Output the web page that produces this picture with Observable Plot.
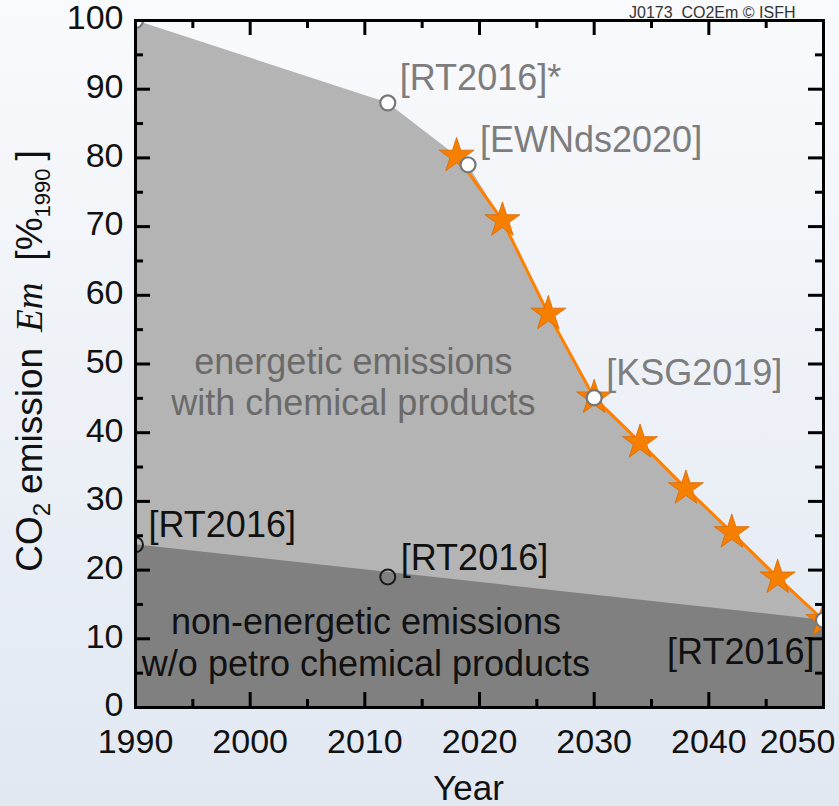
<!DOCTYPE html>
<html>
<head>
<meta charset="utf-8">
<script src="https://cdn.jsdelivr.net/npm/d3@7"></script>
<script src="https://cdn.jsdelivr.net/npm/@observablehq/plot@0.6"></script>
<style>
  html, body { margin: 0; padding: 0; }
  body { width: 839px; height: 806px; overflow: hidden;
         background: linear-gradient(#f9fafc, #e1e8f2); }
  #chart svg { display: block; }
</style>
</head>
<body>
<div id="chart"></div>
<script>
// ---- data ----
const energeticYears = [1990, 2012, 2019, 2022, 2026, 2030, 2034, 2038, 2042, 2046, 2050];
const energeticTop   = [100, 88, 79, 70.9, 57.3, 45.1, 38.6, 31.9, 25.5, 18.9, 12.7];

const nonEnergeticYears  = [1990, 2050];
const nonEnergeticValues = [23.7, 12.7];

const pathYears  = [2018, 2022, 2026, 2030, 2034, 2038, 2042, 2046, 2050];
const pathValues = [80.3, 70.9, 57.3, 45.1, 38.6, 31.9, 25.5, 18.9, 12.7];

const refYears  = [1990, 2012, 2019, 2030, 2050];
const refValues = [100, 88, 79, 45.1, 12.7];
const refLabels = ["", "[RT2016]*", "[EWNds2020]", "[KSG2019]", ""];

const nonRefYears  = [1990, 2012];
const nonRefValues = [23.7, 19];
const nonRefLabels = ["[RT2016]", "[RT2016]"];

const endLabel = "[RT2016]";
const xMajor = [1990, 2000, 2010, 2020, 2030, 2040, 2050];
const xMinor = [1995, 2005, 2015, 2025, 2035, 2045];
const yMajor = [0, 10, 20, 30, 40, 50, 60, 70, 80, 90, 100];
const yMinor = [5, 15, 25, 35, 45, 55, 65, 75, 85, 95];

// ---- tables ----
const upper = energeticYears.map((year, i) => ({year, v: energeticTop[i]}));
const lower = nonEnergeticYears.map((year, i) => ({year, v: nonEnergeticValues[i]}));
const path  = pathYears.map((year, i) => ({year, v: pathValues[i]}));
const refs  = refYears.map((year, i) => ({year, v: refValues[i], label: refLabels[i]}));
const nonRefs = nonRefYears.map((year, i) => ({year, v: nonRefValues[i], label: nonRefLabels[i]}));
const endRef = [{year: 2050, v: 12.7, label: endLabel}];

const font = "'Liberation Sans', Arial, Helvetica, sans-serif";
const gray = "#7d7d7d";

const W = 839, H = 806, mL = 135, mR = 16, mT = 20, mB = 99;
const pw = W - mL - mR, ph = H - mT - mB;
const major = 15, minor = 8;

const chart = Plot.plot({
  width: W, height: H,
  marginLeft: mL, marginRight: mR, marginTop: mT, marginBottom: mB,
  style: {background: "transparent", fontFamily: font, overflow: "visible"},
  x: {domain: [1990, 2050], axis: null},
  y: {domain: [0, 100], axis: null},
  marks: [
    Plot.areaY(upper, {x: "year", y: "v", fill: "#b4b4b4"}),
    Plot.areaY(lower, {x: "year", y: "v", fill: "#808080"}),
    Plot.line(path, {x: "year", y: "v", stroke: "#ff7f00", strokeWidth: 3}),
    Plot.dot(path, {x: "year", y: "v", symbol: "star", r: 11, fill: "#f77f00", stroke: "#d96800", strokeWidth: 0.8, clip: true}),
    Plot.dot(refs, {x: "year", y: "v", r: 7.5, fill: "white", stroke: "#777", strokeWidth: 2.2, clip: true}),
    Plot.dot(nonRefs, {x: "year", y: "v", r: 7.5, fill: "none", stroke: "#1a1a1a", strokeWidth: 2, clip: true}),

    Plot.text(refs, {x: "year", y: "v", text: "label", textAnchor: "start", dx: 12, dy: -24,
      fontSize: 36, fill: gray}),
    Plot.text(nonRefs, {x: "year", y: "v", text: "label", textAnchor: "start", dx: 13, dy: -19,
      fontSize: 36, fill: "#111"}),
    Plot.text(endRef, {x: "year", y: "v", text: "label", textAnchor: "end", dx: -9, dy: 32,
      fontSize: 36, fill: "#111"}),

    Plot.text(["energetic emissions\nwith chemical products"], {x: 2009.0, y: 47.5,
      fontSize: 36, fill: "#6a6a6a", lineHeight: 1.16}),
    Plot.text(["non-energetic emissions\nw/o petro chemical products"], {x: 2010.1, y: 9.6,
      fontSize: 36, fill: "#111", lineHeight: 1.16}),

    Plot.text(["J0173  CO2Em © ISFH"], {frameAnchor: "top-right", dx: -28, dy: -3,
      lineAnchor: "bottom", textAnchor: "end", fontSize: 16, fill: "#333"}),
    Plot.text(["Year"], {frameAnchor: "bottom", dx: -11, dy: 92, lineAnchor: "bottom",
      fontSize: 35, fill: "#111"}),

    Plot.frame({stroke: "black", strokeWidth: 3}),

    // inward ticks on all four sides
    Plot.tickY(yMajor, {y: d => d, insetRight: pw - major, stroke: "black", strokeWidth: 3}),
    Plot.tickY(yMinor, {y: d => d, insetRight: pw - minor, stroke: "black", strokeWidth: 3}),
    Plot.tickY(yMajor, {y: d => d, insetLeft: pw - major, stroke: "black", strokeWidth: 3}),
    Plot.tickY(yMinor, {y: d => d, insetLeft: pw - minor, stroke: "black", strokeWidth: 3}),
    Plot.tickX(xMajor, {x: d => d, insetTop: ph - major, stroke: "black", strokeWidth: 3}),
    Plot.tickX(xMinor, {x: d => d, insetTop: ph - minor, stroke: "black", strokeWidth: 3}),
    Plot.tickX(xMajor, {x: d => d, insetBottom: ph - major, stroke: "black", strokeWidth: 3}),
    Plot.tickX(xMinor, {x: d => d, insetBottom: ph - minor, stroke: "black", strokeWidth: 3}),

    // tick labels
    Plot.text(yMajor, {y: d => d, text: d => String(d), frameAnchor: "left", textAnchor: "end",
      dx: -12, dy: -2, fontSize: 34, fill: "#111"}),
    Plot.text(xMajor.slice(0, -1), {x: d => d, text: d => String(d), frameAnchor: "bottom",
      lineAnchor: "top", dy: 21, fontSize: 34, fill: "#111"}),
    Plot.text(xMajor.slice(-1), {x: d => d, text: d => String(d), frameAnchor: "bottom",
      lineAnchor: "top", dy: 21, dx: -26, fontSize: 34, fill: "#111"})
  ]
});

// y-axis title with subscripts and italic symbol
const svg = d3.select(chart);
const t = svg.append("text")
  .attr("transform", "translate(42,361) rotate(-90)")
  .attr("text-anchor", "middle")
  .attr("font-family", font)
  .attr("font-size", 37)
  .attr("fill", "#111");
t.append("tspan").text("CO");
t.append("tspan").attr("font-size", 24).attr("dy", 8).text("2");
t.append("tspan").attr("dy", -8).attr("dx", 9).text("emission");
t.append("tspan").attr("dx", 16).attr("font-family", "'Liberation Serif', 'DejaVu Serif', serif")
  .attr("font-style", "italic").text("Em");
t.append("tspan").attr("dx", 22).text("[%");
t.append("tspan").attr("font-size", 22).attr("dy", 8).text("1990");
t.append("tspan").attr("dy", -8).attr("dx", 8).text("]");

document.getElementById("chart").appendChild(chart);
</script>
</body>
</html>
